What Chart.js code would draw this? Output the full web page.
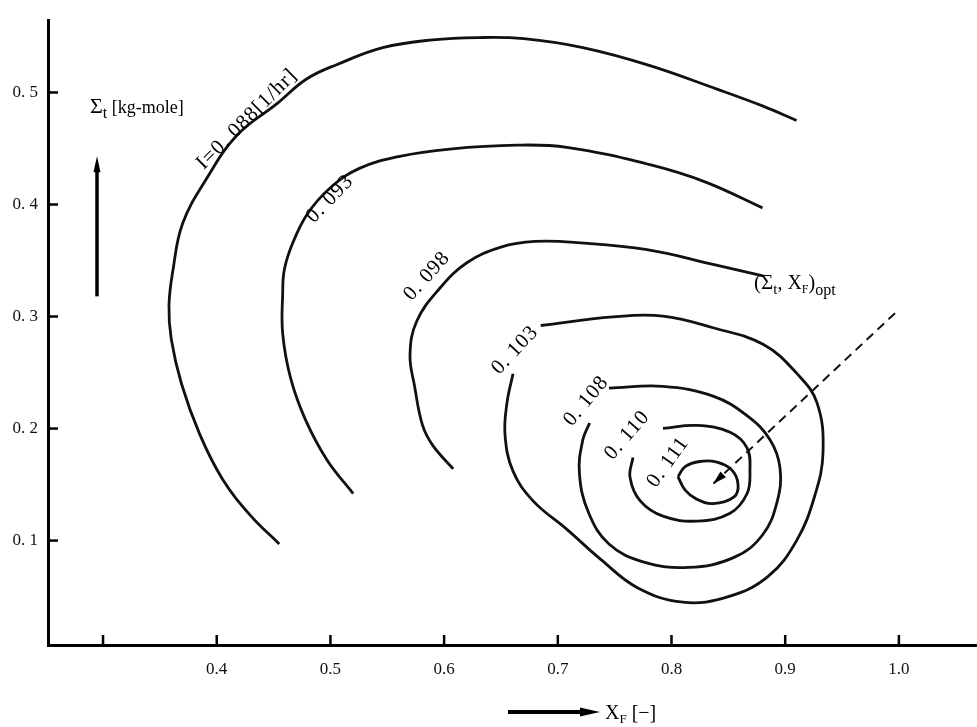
<!DOCTYPE html>
<html>
<head>
<meta charset="utf-8">
<script src="https://cdn.jsdelivr.net/npm/chart.js@4.4.0/dist/chart.umd.min.js"></script>
<style>
html, body { margin: 0; padding: 0; background: #fff; }
#wrap { width: 977px; height: 727px; }
</style>
</head>
<body>
<div id="wrap"><canvas id="contourChart"></canvas></div>
<script>
// axis ticks
const xTickValues = [0.3, 0.4, 0.5, 0.6, 0.7, 0.8, 0.9, 1.0];
const xTickLabels = ['', '0.4', '0.5', '0.6', '0.7', '0.8', '0.9', '1.0'];
const yTickValues = [0.1, 0.2, 0.3, 0.4, 0.5];
const yTickLabels = ['0. 1', '0. 2', '0. 3', '0. 4', '0. 5'];

// contour lines, [X_F, Sigma_t]
const c088 = [[0.455,0.097],[0.43,0.122],[0.405,0.155],[0.385,0.195],[0.369,0.24],[0.36,0.28],[0.358,0.31],[0.3616,0.342],[0.370,0.383],[0.391,0.423],[0.418,0.462],[0.453,0.490],[0.479,0.512],[0.506,0.525],[0.546,0.540],[0.590,0.547],[0.630,0.549],[0.670,0.548],[0.722,0.540],[0.781,0.524],[0.84,0.503],[0.88,0.488],[0.91,0.475]];
const c093 = [[0.52,0.142],[0.497,0.172],[0.478,0.208],[0.465,0.245],[0.458,0.285],[0.458,0.32],[0.4595,0.342],[0.467,0.366],[0.48,0.392],[0.50,0.415],[0.525,0.432],[0.561,0.443],[0.605,0.4495],[0.664,0.453],[0.708,0.451],[0.781,0.4355],[0.83,0.42],[0.88,0.397]];
const c098 = [[0.608,0.164],[0.590,0.185],[0.581,0.203],[0.574,0.238],[0.570,0.266],[0.576,0.296],[0.596,0.325],[0.62,0.348],[0.65,0.362],[0.68,0.367],[0.7195,0.3658],[0.7785,0.3597],[0.8365,0.3466],[0.8805,0.3362]];
const c103 = [[0.685,0.292],[0.7486,0.2997],[0.7925,0.3004],[0.8365,0.29],[0.8805,0.2752],[0.9104,0.249],[0.928,0.2229],[0.9333,0.1793],[0.926,0.14],[0.91,0.1],[0.885,0.068],[0.85,0.05],[0.81,0.045],[0.77,0.058],[0.738,0.083],[0.708,0.11],[0.678,0.1357],[0.6606,0.162],[0.6536,0.194],[0.6553,0.2229],[0.6606,0.249]];
const c108 = [[0.745,0.236],[0.7925,0.2377],[0.8365,0.229],[0.8664,0.2115],[0.8866,0.19],[0.8954,0.165],[0.893,0.135],[0.88,0.105],[0.855,0.085],[0.815,0.076],[0.775,0.081],[0.745,0.097],[0.727,0.125],[0.719,0.16],[0.722,0.19],[0.728,0.205]];
const c110 = [[0.7925,0.2002],[0.8224,0.2028],[0.8515,0.1967],[0.8664,0.1828],[0.869,0.1619],[0.8664,0.1418],[0.8515,0.1244],[0.8224,0.1174],[0.7925,0.1218],[0.7723,0.1357],[0.7635,0.1566],[0.7661,0.1741]];
const c111 = [[0.8057,0.157],[0.812,0.166],[0.825,0.1706],[0.840,0.170],[0.853,0.163],[0.8585,0.1505],[0.855,0.139],[0.8365,0.133],[0.822,0.137],[0.812,0.145],[0.8057,0.157]];
const optArrow = [[0.9966,0.303],[0.8365,0.1505]];

const contours = [c088, c093, c098, c103, c108, c110, c111];
const levelNames = ['I=0. 088[1/hr]', '0. 093', '0. 098', '0. 103', '0. 108', '0. 110', '0. 111'];

// where each level name sits: [x, y, angle in degrees]
const labelSpots = [[0.4266,0.476,45],[0.4997,0.405,46],[0.585,0.336,48],[0.6624,0.27,47],[0.725,0.2246,50],[0.761,0.194,49],[0.797,0.17,54]];

const toXY = arr => arr.map(p => ({x: p[0], y: p[1]}));

const datasets = contours.map((c, i) => ({
    label: levelNames[i],
    data: toXY(c),
    showLine: true,
    borderColor: '#111',
    borderWidth: 2.8,
    pointRadius: 0,
    tension: 0.4
}));
datasets.push({
    label: 'opt',
    data: toXY(optArrow),
    showLine: true,
    borderColor: '#111',
    borderWidth: 2,
    borderDash: [9, 6],
    pointRadius: 0
});

const serif = "'Liberation Serif', 'DejaVu Serif', serif";

function drawRich(ctx, parts, x, y) {
    let cx = x;
    parts.forEach(p => {
        ctx.font = p.size + 'px ' + serif;
        ctx.fillText(p.t, cx, y + (p.dy || 0));
        cx += ctx.measureText(p.t).width;
    });
}

function arrowHead(ctx, x0, y0, x1, y1, len, half) {
    const a = Math.atan2(y1 - y0, x1 - x0);
    ctx.beginPath();
    ctx.moveTo(x1, y1);
    ctx.lineTo(x1 - len * Math.cos(a) + half * Math.sin(a), y1 - len * Math.sin(a) - half * Math.cos(a));
    ctx.lineTo(x1 - len * Math.cos(a) - half * Math.sin(a), y1 - len * Math.sin(a) + half * Math.cos(a));
    ctx.closePath();
    ctx.fill();
}

const annotate = {
    id: 'annotate',
    afterDraw(chart) {
        const {ctx, chartArea} = chart;
        const xs = chart.scales.x, ys = chart.scales.y;
        ctx.save();
        ctx.strokeStyle = '#000';
        ctx.fillStyle = '#000';
        ctx.lineWidth = 2.5;
        // inward tick marks
        yTickValues.forEach(v => {
            const py = ys.getPixelForValue(v);
            ctx.beginPath();
            ctx.moveTo(chartArea.left, py);
            ctx.lineTo(chartArea.left + 10, py);
            ctx.stroke();
        });
        xTickValues.forEach(v => {
            const px = xs.getPixelForValue(v);
            ctx.beginPath();
            ctx.moveTo(px, chartArea.bottom);
            ctx.lineTo(px, chartArea.bottom - 10);
            ctx.stroke();
        });

        // level names along the curves
        ctx.textAlign = 'center';
        ctx.textBaseline = 'middle';
        ctx.font = '21px ' + serif;
        ctx.letterSpacing = '1px';
        labelSpots.forEach((s, i) => {
            ctx.save();
            ctx.translate(xs.getPixelForValue(s[0]), ys.getPixelForValue(s[1]));
            ctx.rotate(-s[2] * Math.PI / 180);
            ctx.fillText(levelNames[i], 0, 0);
            ctx.restore();
        });
        ctx.letterSpacing = '0px';

        // optimum marker
        ctx.textAlign = 'left';
        ctx.textBaseline = 'alphabetic';
        const ox = xs.getPixelForValue(0.8726), oy = ys.getPixelForValue(0.325);
        drawRich(ctx, [
            {t: '(Σ', size: 21}, {t: 't', size: 15, dy: 5}, {t: ', X', size: 20},
            {t: 'F', size: 12, dy: 4}, {t: ')', size: 20}, {t: 'opt', size: 16, dy: 6}
        ], ox, oy);
        const a0 = optArrow[0], a1 = optArrow[1];
        arrowHead(ctx, xs.getPixelForValue(a0[0]), ys.getPixelForValue(a0[1]),
            xs.getPixelForValue(a1[0]), ys.getPixelForValue(a1[1]), 14, 4);

        // y axis title with arrow
        const yax = xs.getPixelForValue(0.2947);
        const yTop = ys.getPixelForValue(0.443), yBot = ys.getPixelForValue(0.318);
        ctx.lineWidth = 3.5;
        ctx.beginPath();
        ctx.moveTo(yax, yBot);
        ctx.lineTo(yax, yTop + 8);
        ctx.stroke();
        arrowHead(ctx, yax, yBot, yax, yTop, 16, 3.5);
        drawRich(ctx, [
            {t: 'Σ', size: 22}, {t: 't', size: 16, dy: 5}, {t: ' [kg-mole]', size: 18}
        ], xs.getPixelForValue(0.2886), ys.getPixelForValue(0.482));

        // x axis title with arrow
        const bY = chartArea.bottom + 67;
        const bx0 = xs.getPixelForValue(0.6562), bx1 = xs.getPixelForValue(0.7371);
        ctx.lineWidth = 4;
        ctx.beginPath();
        ctx.moveTo(bx0, bY);
        ctx.lineTo(bx1 - 10, bY);
        ctx.stroke();
        arrowHead(ctx, bx0, bY, bx1, bY, 20, 4.5);
        drawRich(ctx, [
            {t: 'X', size: 20}, {t: 'F', size: 13, dy: 4}, {t: ' [−]', size: 20}
        ], xs.getPixelForValue(0.7415), bY + 7);
        ctx.restore();
    }
};

const ctx = document.getElementById('contourChart').getContext('2d');
const contourChart = new Chart(ctx, {
    type: 'scatter',
    data: { datasets: datasets },
    options: {
        responsive: true,
        maintainAspectRatio: false,
        animation: false,
        layout: { padding: { top: 5, right: 0, bottom: 0, left: 0 } },
        plugins: {
            legend: { display: false },
            tooltip: { enabled: false }
        },
        scales: {
            x: {
                type: 'linear',
                min: 0.2516,
                max: 1.0687,
                afterBuildTicks: s => { s.ticks = xTickValues.map(v => ({ value: v })); },
                afterFit: s => { s.height = 82; },
                grid: { display: false, drawTicks: false },
                border: { display: true, color: '#000', width: 3 },
                ticks: {
                    padding: 14,
                    color: '#111',
                    font: { family: serif, size: 17 },
                    callback: (v, i) => xTickLabels[i]
                }
            },
            y: {
                type: 'linear',
                min: 0.0068,
                max: 0.5645,
                afterBuildTicks: s => { s.ticks = yTickValues.map(v => ({ value: v })); },
                afterFit: s => { s.width = 48; },
                grid: { display: false, drawTicks: false },
                border: { display: true, color: '#000', width: 3 },
                ticks: {
                    padding: 10,
                    color: '#111',
                    font: { family: serif, size: 17 },
                    callback: (v, i) => yTickLabels[i]
                }
            }
        }
    },
    plugins: [annotate]
});
</script>
</body>
</html>
